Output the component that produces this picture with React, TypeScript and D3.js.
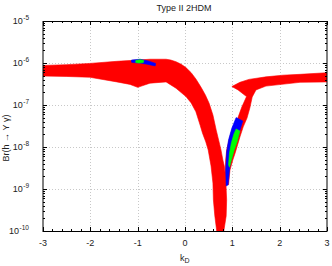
import * as d3 from 'd3'

const X_TICKS = [-3, -2, -1, 0, 1, 2, 3]
const Y_EXPONENTS = [-10, -9, -8, -7, -6, -5]

const RED_LEFT_KD = [
  -3.02, -2.51, -2.01, -1.44, -1.0, -0.74, -0.4, -0.3, -0.19, -0.08, 0.02, 0.13, 0.23, 0.34, 0.43, 0.51, 0.59, 0.66, 0.72,
  0.76, 0.8, 0.83, 0.86, 0.88, 0.87, 0.82, 0.82,
  0.67, 0.67, 0.63, 0.6, 0.59, 0.55, 0.49, 0.44, 0.37, 0.32, 0.23, 0.13, 0.02, -0.19, -0.4, -0.74, -1.0,
  -1.16, -1.44, -2.01, -2.51, -3.02,
]
const RED_LEFT_LOGBR = [
  -6.06, -6.04, -6.01, -5.96, -5.93, -5.91, -5.91, -5.93, -5.97, -6.03, -6.11, -6.23, -6.38, -6.58, -6.76, -6.96, -7.24, -7.6, -7.88,
  -8.07, -8.31, -8.45, -8.75, -9.26, -9.64, -10.0, -10.4,
  -10.4, -10.0, -9.64, -9.26, -8.86, -8.45, -8.07, -7.88, -7.67, -7.48, -7.16, -6.95, -6.8, -6.6, -6.45, -6.48, -6.58,
  -6.51, -6.45, -6.34, -6.32, -6.31,
]
const RED_RIGHT_KD = [
  3.02, 2.43, 2.07, 1.71, 1.35, 1.16, 0.99, 1.12, 1.3, 1.2, 1.1, 0.99, 0.92, 0.88, 0.86, 0.85, 0.83,
  0.92, 0.95, 1.01, 1.06, 1.16, 1.23, 1.31, 1.37, 1.42, 1.5, 1.71, 2.43, 3.02,
]
const RED_RIGHT_LOGBR = [
  -6.23, -6.27, -6.29, -6.33, -6.39, -6.46, -6.56, -6.64, -6.8, -7.05, -7.36, -7.6, -7.88, -8.07, -8.31, -8.55, -8.9,
  -8.9, -8.55, -8.31, -8.14, -7.76, -7.52, -7.31, -7.07, -6.81, -6.64, -6.55, -6.46, -6.45,
]
const BLUE_ARM_KD = [1.08, 1.22, 1.16, 1.1, 1.01, 0.95, 0.91, 0.87, 0.86, 0.88, 0.92, 0.99]
const BLUE_ARM_LOGBR = [-7.3, -7.38, -7.6, -7.83, -8.12, -8.43, -8.9, -8.93, -8.55, -8.12, -7.83, -7.55]
const GREEN_ARM_KD = [1.08, 1.16, 1.1, 1.04, 0.98, 0.94, 0.92, 0.94, 0.98, 1.03]
const GREEN_ARM_LOGBR = [-7.57, -7.62, -7.88, -8.07, -8.31, -8.48, -8.42, -8.14, -7.9, -7.7]
const BLUE_TOP_KD = [-1.13, -0.95, -0.78, -0.62, -0.63, -0.8, -0.95, -1.1, -1.13]
const BLUE_TOP_LOGBR = [-5.93, -5.91, -5.95, -6.01, -6.07, -6.03, -6.0, -5.99, -5.98]
const GREEN_TOP_KD = [-1.04, -0.95, -0.87, -0.88, -0.97, -1.04]
const GREEN_TOP_LOGBR = [-5.94, -5.92, -5.94, -5.99, -6.0, -5.99]

const REGIONS = [
  { kd: RED_LEFT_KD, lb: RED_LEFT_LOGBR, color: '#ff0000' },
  { kd: RED_RIGHT_KD, lb: RED_RIGHT_LOGBR, color: '#ff0000' },
  { kd: BLUE_ARM_KD, lb: BLUE_ARM_LOGBR, color: '#0000ff' },
  { kd: GREEN_ARM_KD, lb: GREEN_ARM_LOGBR, color: '#00ff00' },
  { kd: BLUE_TOP_KD, lb: BLUE_TOP_LOGBR, color: '#0000ff' },
  { kd: GREEN_TOP_KD, lb: GREEN_TOP_LOGBR, color: '#00ff00' },
]

const W = 332
const H = 266
const L = 43, R = 327, T = 21, B = 231
const FONT = '"Liberation Sans", Arial, sans-serif'

export default function App() {
  const x = d3.scaleLinear().domain([-3, 3]).range([L, R])
  const y = d3.scaleLog().domain([1e-10, 1e-5]).range([B, T])

  const outline = (kd: number[], lb: number[]) =>
    d3.line<number>()
      .x((_, i) => x(kd[i]))
      .y((_, i) => y(Math.pow(10, lb[i])))
      .curve(d3.curveLinearClosed)(kd) ?? ''

  const xMinor = d3.range(-3, 3.001, 0.2).filter(v => Math.abs(v - Math.round(v)) > 0.01)
  const yMinor: number[] = []
  for (let e = -10; e < -5; e++) for (let m = 2; m <= 9; m++) yMinor.push(m * Math.pow(10, e))

  return (
    <div style={{ position: 'absolute', left: 0, top: 0 }}>
      <svg width={W} height={H} style={{ display: 'block', background: '#fff' }} fontFamily={FONT}>
        <defs>
          <clipPath id="plot">
            <rect x={L} y={T} width={R - L} height={B - T} />
          </clipPath>
        </defs>

        {/* dotted grid */}
        <g stroke="#c8c8c8" strokeWidth={1} strokeDasharray="1,2">
          {X_TICKS.slice(1, -1).map(v => (
            <line key={v} x1={Math.round(x(v)) + 0.5} x2={Math.round(x(v)) + 0.5} y1={T} y2={B} />
          ))}
          {Y_EXPONENTS.slice(1, -1).map(e => (
            <line key={e} x1={L} x2={R} y1={Math.round(y(Math.pow(10, e))) + 0.5} y2={Math.round(y(Math.pow(10, e))) + 0.5} />
          ))}
        </g>

        <g clipPath="url(#plot)">
          {REGIONS.map((r, i) => (
            <path key={i} d={outline(r.kd, r.lb)} fill={r.color} stroke={r.color} strokeWidth={0.6} strokeLinejoin="round" />
          ))}
        </g>

        {/* ticks, all four sides, pointing inward */}
        <g stroke="#000" strokeWidth={1}>
          {X_TICKS.map(v => {
            const px = Math.round(x(v)) + 0.5
            return (
              <g key={v}>
                <line x1={px} x2={px} y1={B} y2={B - 4} />
                <line x1={px} x2={px} y1={T} y2={T + 4} />
              </g>
            )
          })}
          {xMinor.map((v, i) => {
            const px = Math.round(x(v)) + 0.5
            return (
              <g key={i}>
                <line x1={px} x2={px} y1={B} y2={B - 2} />
                <line x1={px} x2={px} y1={T} y2={T + 2} />
              </g>
            )
          })}
          {Y_EXPONENTS.map(e => {
            const py = Math.round(y(Math.pow(10, e))) + 0.5
            return (
              <g key={e}>
                <line x1={L} x2={L + 4} y1={py} y2={py} />
                <line x1={R} x2={R - 4} y1={py} y2={py} />
              </g>
            )
          })}
          {yMinor.map((v, i) => {
            const py = Math.round(y(v)) + 0.5
            return (
              <g key={i}>
                <line x1={L} x2={L + 2} y1={py} y2={py} />
                <line x1={R} x2={R - 2} y1={py} y2={py} />
              </g>
            )
          })}
        </g>

        {/* frame */}
        <line x1={L} x2={R} y1={T + 0.5} y2={T + 0.5} stroke="#000" />
        <line x1={L} x2={R} y1={B + 0.5} y2={B + 0.5} stroke="#000" />
        <line x1={L} x2={L} y1={T} y2={B + 1} stroke="#000" />
        <line x1={R} x2={R} y1={T} y2={B + 1} stroke="#000" />

        {/* tick labels */}
        <g fontSize={9} fill="#222">
          {X_TICKS.map(v => (
            <text key={v} x={x(v)} y={B + 15} textAnchor="middle">{v}</text>
          ))}
          {Y_EXPONENTS.map(e => (
            <text key={e} x={L - 14} y={y(Math.pow(10, e)) + 3} textAnchor="end">
              10
              <tspan fontSize={6.5} dx={0.5} dy={-4}>{e}</tspan>
            </text>
          ))}
        </g>

        <text x={184} y={11} textAnchor="middle" fontSize={9} fill="#222">Type II 2HDM</text>
        <text x={180} y={261} fontSize={9} fill="#222">
          k<tspan fontSize={7} dy={2}>D</tspan>
        </text>
        <text transform={`translate(9,${(T + B) / 2 + 12}) rotate(-90)`} textAnchor="middle" fontSize={9} fill="#222">
          Br(h → Υ γ)
        </text>
      </svg>
    </div>
  )
}
